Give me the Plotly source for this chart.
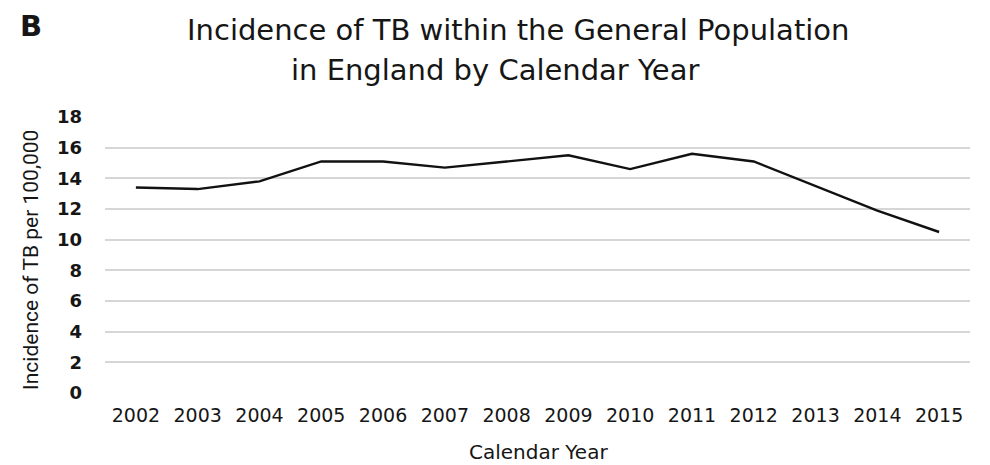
import plotly.graph_objects as go

# TB incidence in England (per 100,000 population) by calendar year
years = ["2002", "2003", "2004", "2005", "2006", "2007", "2008",
         "2009", "2010", "2011", "2012", "2013", "2014", "2015"]
incidence = [13.4, 13.3, 13.8, 15.1, 15.1, 14.7, 15.1,
             15.5, 14.6, 15.6, 15.1, 13.5, 11.9, 10.5]
y_ticks = [0, 2, 4, 6, 8, 10, 12, 14, 16, 18]

FONT = "DejaVu Sans"
INK = "#161616"

fig = go.Figure()
fig.add_trace(go.Scatter(
    x=years, y=incidence, mode="lines",
    line=dict(color="#111111", width=2.4),
    hoverinfo="x+y", showlegend=False,
))

fig.update_layout(
    width=990, height=465,
    margin=dict(l=105, r=20, t=117, b=72),
    paper_bgcolor="white", plot_bgcolor="white",
    font=dict(family=FONT, color=INK),
    xaxis=dict(
        type="category", range=[-0.5, len(years) - 0.5],
        showgrid=False, showline=False, zeroline=False,
        ticks="", tickfont=dict(size=19, color=INK),
        ticklabelstandoff=9,
    ),
    yaxis=dict(
        range=[0, 18], tickvals=y_ticks,
        showgrid=True, gridcolor="#d6d6d6", gridwidth=2,
        zeroline=False, showline=False, ticks="",
        tickfont=dict(size=18, color=INK, weight="bold"),
        ticklabelstandoff=22,
    ),
    annotations=[
        dict(text="<b>B</b>", x=18, y=26, showarrow=False,
             font=dict(size=29, color=INK, family=FONT),
             xanchor="left", yanchor="middle"),
        dict(text="Incidence of TB within the General Population",
             x=518, y=30, showarrow=False,
             font=dict(size=29, color=INK, family=FONT),
             xanchor="center", yanchor="middle"),
        dict(text="in England by Calendar Year",
             x=495, y=70, showarrow=False,
             font=dict(size=29, color=INK, family=FONT),
             xanchor="center", yanchor="middle"),
        dict(text="Incidence of TB per 100,000",
             x=31, y=260, showarrow=False, textangle=-90,
             font=dict(size=21, color=INK, family="Roboto"),
             xanchor="center", yanchor="middle"),
        dict(text="Calendar Year",
             x=538, y=452, showarrow=False,
             font=dict(size=20, color=INK, family=FONT),
             xanchor="center", yanchor="middle"),
    ],
)

# Annotation positions above are given in pixels; convert to paper fractions
plot_w = 990 - 105 - 20
plot_h = 465 - 117 - 72
for ann in fig.layout.annotations:
    ann.xref = "paper"
    ann.yref = "paper"
    ann.x = (ann.x - 105) / plot_w
    ann.y = (465 - 72 - ann.y) / plot_h

fig.write_html("out.html")
